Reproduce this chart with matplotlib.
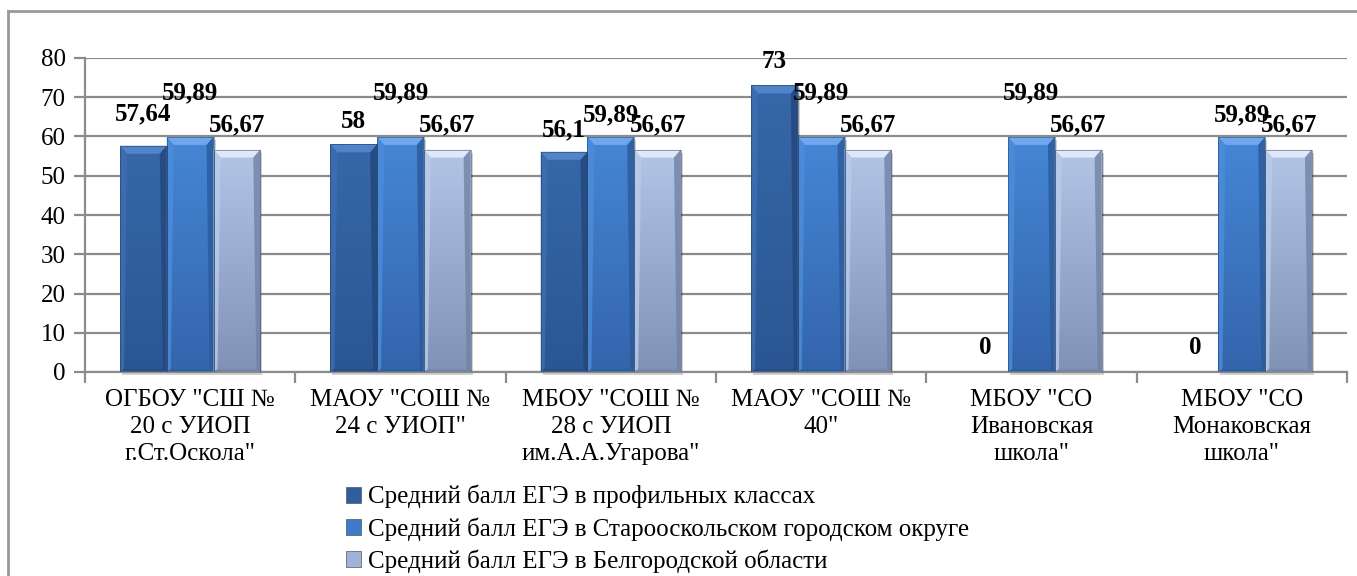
import os
import matplotlib
matplotlib.use("Agg")
import matplotlib.pyplot as plt
import numpy as np
from matplotlib.patches import Polygon, Rectangle, Patch
from matplotlib.lines import Line2D
from matplotlib.colors import LinearSegmentedColormap
from matplotlib.font_manager import FontProperties, findfont

plt.rcParams['font.family'] = 'serif'
plt.rcParams['font.serif'] = ['Liberation Serif', 'DejaVu Serif']

# ---------------- data ----------------
categories = [
    'ОГБОУ "СШ №\n20 с УИОП\nг.Ст.Оскола"',
    'МАОУ "СОШ №\n24 с УИОП"',
    'МБОУ "СОШ №\n28 с УИОП\nим.А.А.Угарова"',
    'МАОУ "СОШ №\n40"',
    'МБОУ "СО\nИвановская\nшкола"',
    'МБОУ "СО\nМонаковская\nшкола"',
]
series_names = [
    'Средний балл ЕГЭ в профильных классах',
    'Средний балл ЕГЭ в Старооскольском городском округе',
    'Средний балл ЕГЭ в Белгородской области',
]
profile_scores = [57.64, 58, 56.1, 73, 0, 0]
district_scores = [59.89, 59.89, 59.89, 59.89, 59.89, 59.89]
region_scores = [56.67, 56.67, 56.67, 56.67, 56.67, 56.67]
y_ticks = [0, 10, 20, 30, 40, 50, 60, 70, 80]

series_values = [profile_scores, district_scores, region_scores]

# ---------------- styling ----------------
palettes = [
    ('#3767A8', '#2A5793', '#5183C8', '#3C6FB2', '#22467A'),
    ('#4586D5', '#3465AC', '#6EA7EE', '#4C8DDB', '#2B5A98'),
    ('#B2C5E7', '#8092B6', '#DFE8F8', '#BACCEB', '#7282A5'),
]
legend_colors = ['#2F5E9E', '#3C7CCB', '#9FB2D8']
label_offsets_px = [
    [34, 25, 24, 26, 27, 27],
    [47, 47, 25, 47, 47, 25],
    [27, 27, 27, 27, 27, 27],
]
FS = 18

def make_fp(weight):
    path = findfont(FontProperties(family='Liberation Serif', weight=weight))
    if os.path.exists(path):
        return FontProperties(fname=path, size=FS)
    return FontProperties(family='serif', weight=weight, size=FS)

fp_reg = make_fp('normal')
fp_bold = make_fp('bold')

W, H = 1357, 576
DPI = 100
fig = plt.figure(figsize=(W / DPI, H / DPI), dpi=DPI)
fig.patch.set_facecolor('white')

ax_l, ax_r, ax_t, ax_b = 85, 1347, 58, 372
ax = fig.add_axes([ax_l / W, (H - ax_b) / H, (ax_r - ax_l) / W, (ax_b - ax_t) / H])

n_cat = len(categories)
x = np.arange(n_cat)
bar_w = 1 / 4.5
ymax = 80

px_x = n_cat / (ax_r - ax_l)
px_y = ymax / (ax_b - ax_t)

grid_c = '#8C8C8C'
for yt in y_ticks:
    ax.axhline(yt, color=grid_c, lw=1.6, zorder=0)

def fmt(v):
    return ('%g' % v).replace('.', ',')

for si, vals in enumerate(series_values):
    offs = (si - 1) * bar_w
    bars = ax.bar(x + offs, vals, width=bar_w, color='none', zorder=2)
    body_top, body_bot, bev, lcol, rcol = palettes[si]
    cmap = LinearSegmentedColormap.from_list('b%d' % si, [body_bot, body_top])
    for bi, rect in enumerate(bars.patches):
        h = rect.get_height()
        x0 = rect.get_x()
        w = rect.get_width()
        x1 = x0 + w
        if h > 0:
            ax.add_patch(Rectangle((x0 + 2 * px_x, -3 * px_y), w, h, facecolor='#000000',
                                   alpha=0.18, lw=0, zorder=1.5, clip_on=False))
            grad = np.linspace(0, 1, 64).reshape(-1, 1)
            im = ax.imshow(grad, extent=[x0, x1, 0, h], origin='lower', aspect='auto',
                           cmap=cmap, zorder=2, interpolation='bilinear')
            im.set_clip_path(rect)
            d = 7 * px_x
            t = 8 * px_y
            s = 4 * px_x
            b = 3 * px_y
            ax.add_patch(Polygon([(x0, h), (x1, h), (x1 - d, h - t), (x0 + d, h - t)],
                                 closed=True, facecolor=bev, lw=0, zorder=3))
            ax.add_patch(Polygon([(x0, h), (x0 + d, h - t), (x0 + s, b), (x0, 0)],
                                 closed=True, facecolor=lcol, lw=0, alpha=0.8, zorder=3))
            ax.add_patch(Polygon([(x1, h), (x1 - d, h - t), (x1 - s, b), (x1, 0)],
                                 closed=True, facecolor=rcol, lw=0, alpha=0.8, zorder=3))
            ax.add_patch(Polygon([(x0, 0), (x0 + s, b), (x1 - s, b), (x1, 0)],
                                 closed=True, facecolor=rcol, lw=0, alpha=0.6, zorder=3))
            ax.add_patch(Rectangle((x0, 0), w, h, facecolor='none', edgecolor='#1E3050',
                                   lw=0.5, alpha=0.6, zorder=3.5))
        ax.annotate(fmt(vals[bi]), xy=(x0 + w / 2, h),
                    xytext=(0, label_offsets_px[si][bi] * 72 / DPI),
                    textcoords='offset points', ha='center', va='center_baseline',
                    fontproperties=fp_bold, color='black', zorder=5)

ax.set_xlim(-0.5, n_cat - 0.5)
ax.set_ylim(0, ymax)
ax.set_yticks(y_ticks)
ax.set_yticklabels([str(v) for v in y_ticks], fontproperties=fp_reg)
ax.set_xticks(x)
ax.set_xticklabels(categories, fontproperties=fp_reg, linespacing=1.3)
ax.set_xticks(np.arange(n_cat + 1) - 0.5, minor=True)
ax.tick_params(axis='x', which='major', length=0, pad=12)
ax.tick_params(axis='x', which='minor', length=8, width=1.6, color=grid_c, direction='out')
ax.tick_params(axis='y', which='major', length=8, width=1.6, color=grid_c, direction='out', pad=6)

for sp in ['top', 'right']:
    ax.spines[sp].set_visible(False)
for sp in ['left', 'bottom']:
    ax.spines[sp].set_color(grid_c)
    ax.spines[sp].set_linewidth(1.6)
ax.set_facecolor('none')

handles = [Patch(facecolor=c, edgecolor='#555555', lw=0.5) for c in legend_colors]
leg = fig.legend(handles, series_names, loc='upper left',
                 bbox_to_anchor=(346 / W, 1 - 485 / H), frameon=False,
                 prop=fp_reg,
                 handlelength=0.6, handleheight=0.6, handletextpad=0.3,
                 labelspacing=0.35, borderpad=0, borderaxespad=0)

fig.add_artist(Line2D([8 / W, 8 / W], [0, 1 - 11 / H], color='#999999', lw=2,
                      transform=fig.transFigure))
fig.add_artist(Line2D([8 / W, 1], [1 - 11 / H, 1 - 11 / H], color='#999999', lw=2,
                      transform=fig.transFigure))

fig.savefig('out.png', dpi=DPI)
